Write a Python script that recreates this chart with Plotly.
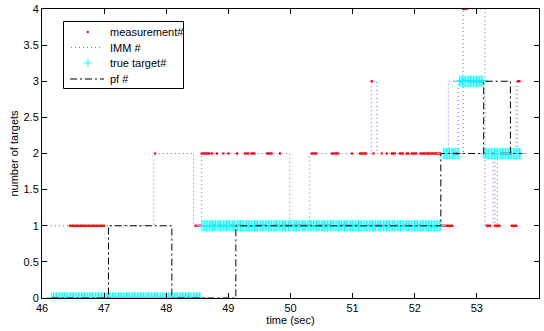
import numpy as np
import plotly.graph_objects as go

# ---------------- data ----------------
# measurement count: piecewise-constant segments (start time, end time, value)
meas_start = [46.16, 46.45, 47.01, 47.82, 47.845, 48.47, 48.57, 48.71, 48.735, 48.76, 48.815, 48.84,
              48.92, 48.945, 49.00, 49.025, 49.14, 49.165, 49.27, 49.345, 49.37, 49.455, 49.62, 49.725,
              49.83, 49.855, 50.34, 50.445, 50.67, 50.795, 50.99, 51.015, 51.12, 51.255, 51.31, 51.335,
              51.36, 51.47, 51.495, 51.55, 51.575, 51.63, 51.705, 51.76, 51.845, 51.87, 51.925, 51.95,
              52.055, 52.09, 52.43, 52.625, 52.725, 52.78, 52.865, 53.115, 53.16, 53.245, 53.29, 53.395,
              53.56, 53.66]
meas_end = [46.43, 46.99, 47.80, 47.82, 48.45, 48.55, 48.69, 48.715, 48.735, 48.79, 48.815, 48.90,
            48.92, 48.98, 49.00, 49.115, 49.14, 49.25, 49.32, 49.35, 49.43, 49.60, 49.70, 49.81,
            49.83, 50.32, 50.42, 50.65, 50.77, 50.97, 50.99, 51.10, 51.23, 51.285, 51.31, 51.335,
            51.45, 51.47, 51.53, 51.55, 51.61, 51.68, 51.74, 51.82, 51.85, 51.90, 51.93, 52.03,
            52.07, 52.41, 52.60, 52.70, 52.76, 52.84, 53.09, 53.14, 53.22, 53.27, 53.37, 53.54,
            53.64, 53.69]
meas_value = [0, 1, 0, 2, 0, 1, 2, 1, 2, 1, 2, 1,
              2, 1, 2, 1, 2, 1, 2, 1, 2, 1, 2, 1,
              2, 1, 2, 1, 2, 1, 2, 1, 2, 1, 3, 2,
              1, 2, 1, 2, 1, 2, 1, 2, 1, 2, 1, 2,
              1, 2, 1, 2, 3, 4, 3, 2, 1, 2, 1, 2,
              1, 3]
sample_period = 0.025

# IMM estimate: change points (step function)
imm_t = [46.08, 47.80, 48.44, 48.57, 49.99, 50.31, 51.30, 51.39, 52.54, 52.70, 52.78,
         53.13, 53.26, 53.29, 53.33, 53.63, 53.66, 53.72]
imm_v = [1, 2, 1, 2, 1, 2, 3, 2, 3, 2, 4, 1, 2, 1, 2, 3, 2, 2]

# true number of targets: segments
true_start = [46.16, 48.57, 52.46, 52.72, 53.11]
true_end = [48.55, 52.43, 52.70, 53.09, 53.72]
true_value = [0, 1, 2, 3, 2]

# particle filter estimate: change points (step function)
pf_t = [46.16, 47.07, 48.09, 49.12, 52.42, 53.11, 53.54, 53.72]
pf_v = [0, 1, 0, 1, 2, 3, 2, 2]

series_names = ["measurement#", "IMM #", "true target#", "pf #"]
x_ticks = [46, 47, 48, 49, 50, 51, 52, 53, 54]
y_ticks = [0, 0.5, 1, 1.5, 2, 2.5, 3, 3.5, 4]
y_tick_labels = ["0", "0.5", "1", "1.5", "2", "2.5", "3", "3.5", "4"]


def expand(starts, ends, values, dt):
    tt, vv = [], []
    for s, e, v in zip(starts, ends, values):
        n = int(round((e - s) / dt)) + 1
        for k in range(n):
            tt.append(s + k * dt)
            vv.append(v)
    return tt, vv


meas_t, meas_v = expand(meas_start, meas_end, meas_value, sample_period)
true_t, true_v = expand(true_start, true_end, true_value, sample_period)

FONT = "Liberation Sans, Arial, Helvetica, sans-serif"
RED = "#ff0000"
IMM_COLOR = "#6a6aff"
CYAN = "#00ffff"
IMM_DASH = "1px,3px"
PF_DASH = "7px,3px,2px,3px"

W, H = 544, 331
ML, MR, MT, MB = 42, 5, 9, 33
PW, PH = W - ML - MR, H - MT - MB

fig = go.Figure()
fig.add_trace(go.Scatter(
    x=meas_t, y=meas_v, mode="markers", name=series_names[0],
    marker=dict(symbol="circle", size=2.6, color=RED, line=dict(width=0)),
))
fig.add_trace(go.Scatter(
    x=imm_t, y=imm_v, mode="lines", name=series_names[1], line_shape="hv",
    line=dict(color=IMM_COLOR, width=1, dash=IMM_DASH),
))
fig.add_trace(go.Scatter(
    x=true_t, y=true_v, mode="markers", name=series_names[2],
    marker=dict(symbol="cross-thin", size=8, color=CYAN,
                line=dict(width=1, color=CYAN)),
))
fig.add_trace(go.Scatter(
    x=pf_t, y=pf_v, mode="lines", name=series_names[3], line_shape="hv",
    line=dict(color="#000000", width=1, dash=PF_DASH),
))


# ---- legend box drawn in paper coordinates (MATLAB-style compact legend) ----
def px(xp):
    return (xp - ML) / PW


def py(yp):
    return (H - MB - yp) / PH


shapes = []
annotations = []
box = (63.5, 21.5, 183.5, 88.5)
shapes.append(dict(type="rect", xref="paper", yref="paper",
                   x0=px(box[0]), x1=px(box[2]), y0=py(box[3]), y1=py(box[1]),
                   line=dict(color="black", width=1), fillcolor="white", layer="above"))
row_y = [32, 47.5, 63, 79]
text_x = 108
# measurement: red dot
shapes.append(dict(type="circle", xref="paper", yref="paper",
                   x0=px(86.5), x1=px(89), y0=py(row_y[0] + 1.25), y1=py(row_y[0] - 1.25),
                   line=dict(width=0), fillcolor=RED, layer="above"))
# IMM: dotted line
shapes.append(dict(type="line", xref="paper", yref="paper",
                   x0=px(71), x1=px(103), y0=py(row_y[1]), y1=py(row_y[1]),
                   line=dict(color=IMM_COLOR, width=1, dash=IMM_DASH), layer="above"))
# true target: cyan cross
shapes.append(dict(type="line", xref="paper", yref="paper",
                   x0=px(84), x1=px(92), y0=py(row_y[2]), y1=py(row_y[2]),
                   line=dict(color=CYAN, width=1), layer="above"))
shapes.append(dict(type="line", xref="paper", yref="paper",
                   x0=px(88), x1=px(88), y0=py(row_y[2] - 4), y1=py(row_y[2] + 4),
                   line=dict(color=CYAN, width=1), layer="above"))
# pf: dash-dot line
shapes.append(dict(type="line", xref="paper", yref="paper",
                   x0=px(70), x1=px(104), y0=py(row_y[3]), y1=py(row_y[3]),
                   line=dict(color="black", width=1, dash=PF_DASH), layer="above"))
for name, yy in zip(series_names, row_y):
    annotations.append(dict(xref="paper", yref="paper", x=px(text_x), y=py(yy),
                            xanchor="left", yanchor="middle", showarrow=False,
                            text=name, font=dict(family=FONT, size=11, color="black")))

axis_common = dict(
    showline=True, linecolor="black", linewidth=1, mirror="ticks",
    ticks="inside", ticklen=5, tickcolor="black", tickwidth=1,
    showgrid=False, zeroline=False, automargin=False,
    tickfont=dict(family=FONT, size=11, color="black"),
)

fig.update_layout(
    width=W, height=H,
    margin=dict(l=ML, r=MR, t=MT, b=MB, pad=0, autoexpand=False),
    paper_bgcolor="white", plot_bgcolor="white",
    font=dict(family=FONT, size=11, color="black"),
    xaxis=dict(range=[46, 54], tickvals=x_ticks,
               title=dict(text="time (sec)", font=dict(family=FONT, size=11), standoff=0),
               **axis_common),
    yaxis=dict(range=[0, 4], tickvals=y_ticks, ticktext=y_tick_labels,
               title=dict(text="number of targets", font=dict(family=FONT, size=11), standoff=2),
               **axis_common),
    showlegend=False,
    shapes=shapes,
    annotations=annotations,
)

fig.write_html("out.html", config={"displayModeBar": False},
               post_script="document.body.style.margin='0';document.body.style.padding='0';")
